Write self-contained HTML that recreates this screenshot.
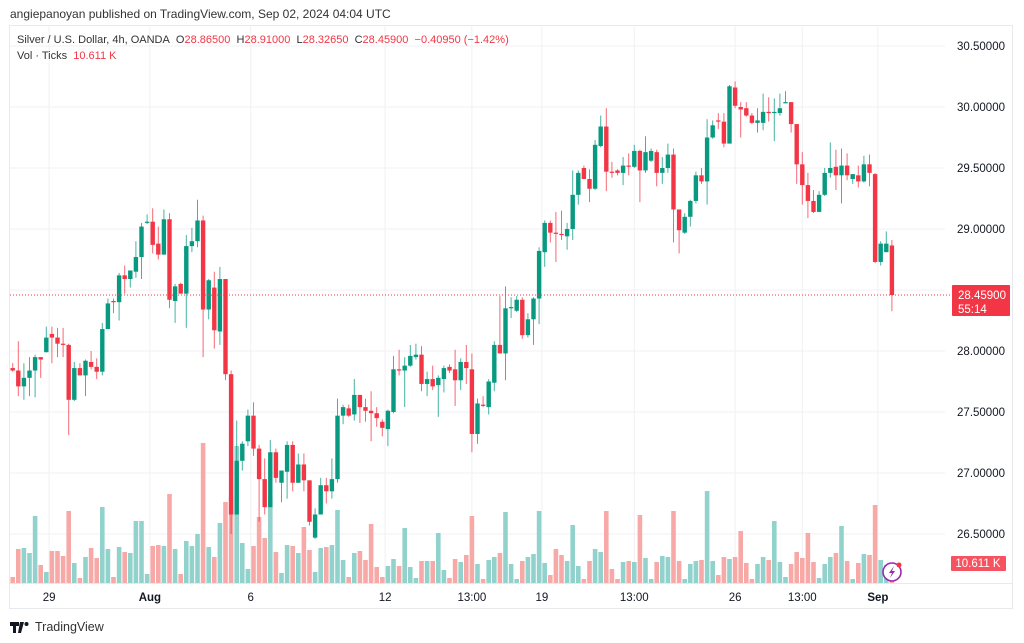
<!DOCTYPE html>
<html><head><meta charset="utf-8">
<style>
body{margin:0;width:1024px;height:643px;background:#fff;font-family:"Liberation Sans",sans-serif;overflow:hidden;position:relative}
.hdr{position:absolute;left:10px;top:7px;font-size:12px;color:#333}
.frame{position:absolute;left:9px;top:25px;width:1004px;height:584px;border:1px solid #e8e9ed;box-sizing:border-box}
.leg{position:absolute;left:17px;font-size:11px;color:#333}
.leg .r{color:#f23645}
.logo{position:absolute;left:10px;top:620px;font-size:12.5px;color:#333;display:flex;align-items:center;gap:5px}
</style></head><body>
<div class="hdr">angiepanoyan published on TradingView.com, Sep 02, 2024 04:04 UTC</div>
<div class="frame"></div>
<svg id="chart" width="1024" height="643" style="position:absolute;left:0;top:0"></svg>
<div class="leg" style="top:34px">Silver / U.S. Dollar, 4h, OANDA&nbsp; O<span class="r">28.86500</span>&nbsp; H<span class="r">28.91000</span>&nbsp; L<span class="r">28.32650</span>&nbsp; C<span class="r">28.45900</span>&nbsp; <span class="r">−0.40950 (−1.42%)</span></div>
<div class="leg" style="top:50px">Vol · Ticks&nbsp; <span class="r">10.611 K</span></div>
<div class="logo"><svg width="20" height="11"><path d="M0 0h9v4H6v7H3V4H0z M10 0h4l-3 11H8z" fill="#131722"/><circle cx="16.5" cy="2" r="2" fill="#131722"/></svg>TradingView</div>
<script>
const opens=[27.86,27.84,27.71,27.78,27.84,27.95,27.99,28.14,28.11,28.06,28.05,27.60,27.86,27.80,27.91,27.87,27.83,28.18,28.41,28.40,28.62,28.59,28.65,28.77,29.05,29.06,28.88,28.79,29.08,28.41,28.55,28.47,28.86,28.90,29.07,28.34,28.52,28.16,28.59,27.81,26.66,27.10,27.26,27.47,27.20,26.95,26.72,27.17,26.92,27.01,27.23,26.92,27.07,26.94,26.47,26.66,26.90,26.85,26.95,27.47,27.53,27.48,27.64,27.54,27.51,27.49,27.42,27.36,27.50,27.85,27.84,27.88,27.95,27.97,27.73,27.77,27.72,27.77,27.87,27.85,27.76,27.91,27.85,27.32,27.56,27.54,27.74,28.05,27.98,28.35,28.33,28.42,28.13,28.26,28.43,28.81,29.05,28.97,28.96,28.94,29.00,29.28,29.50,29.41,29.33,29.68,29.84,29.47,29.48,29.46,29.52,29.51,29.64,29.48,29.56,29.63,29.46,29.50,29.61,29.16,28.97,29.10,29.23,29.44,29.39,29.75,29.89,29.88,29.70,30.16,30.00,29.99,29.93,29.87,29.87,29.96,29.95,29.95,30.03,30.04,29.86,29.53,29.36,29.23,29.14,29.28,29.46,29.51,29.44,29.52,29.41,29.44,29.39,29.53,29.45,28.73,28.81,28.865];
const highs=[27.90,28.08,27.90,27.95,27.97,27.95,28.20,28.20,28.19,28.19,28.06,27.91,27.90,27.93,28.00,27.94,28.23,28.43,28.43,28.64,28.70,28.66,28.90,29.05,29.12,29.17,29.02,29.16,29.13,28.55,28.56,28.95,29.01,29.24,29.11,28.59,28.65,28.69,28.59,27.84,27.43,27.26,27.52,27.58,27.23,27.12,27.27,27.20,27.02,27.26,27.26,27.16,27.16,26.94,26.71,26.96,26.96,27.12,27.61,27.56,27.56,27.77,27.64,27.61,27.67,27.54,27.44,27.52,27.96,28.01,27.95,28.05,28.06,28.04,27.83,27.88,27.80,27.88,27.89,28.01,27.94,28.05,27.98,27.61,27.63,27.77,28.08,28.45,28.53,28.44,28.45,28.44,28.31,28.44,28.85,29.07,29.07,29.14,29.15,29.05,29.48,29.48,29.52,29.49,29.73,29.93,29.99,29.55,29.49,29.59,29.62,29.69,29.65,29.76,29.66,29.65,29.59,29.70,29.66,29.16,29.13,29.24,29.47,29.50,29.90,29.89,29.95,29.95,30.18,30.21,30.04,30.04,29.95,29.99,30.11,30.08,30.07,30.11,30.13,30.04,29.86,29.63,29.46,29.32,29.31,29.50,29.71,29.65,29.66,29.62,29.45,29.52,29.60,29.61,29.46,28.90,28.98,28.91];
const lows=[27.83,27.63,27.60,27.63,27.62,27.78,27.99,27.90,27.95,27.95,27.31,27.59,27.80,27.63,27.85,27.77,27.80,28.18,28.31,28.25,28.47,28.52,28.60,28.59,29.04,28.80,28.75,28.79,28.35,28.23,28.47,28.19,28.81,28.85,27.95,28.26,28.02,28.05,27.76,26.50,26.66,27.02,27.22,27.14,26.60,26.66,26.72,26.92,26.76,26.79,26.85,26.92,26.85,26.57,26.46,26.66,26.75,26.79,26.92,27.40,27.46,27.43,27.41,27.42,27.26,27.38,27.30,27.22,27.49,27.80,27.54,27.87,27.93,27.67,27.63,27.68,27.46,27.66,27.82,27.55,27.68,27.73,27.17,27.24,27.54,27.48,27.67,27.98,27.76,28.27,28.32,28.10,28.11,28.05,28.22,28.69,28.89,28.73,28.91,28.83,28.91,29.20,29.41,29.22,29.32,29.67,29.31,29.42,29.44,29.36,29.44,29.50,29.22,29.46,29.55,29.35,29.37,29.46,28.89,28.80,28.96,29.02,29.21,29.37,29.20,29.74,29.82,29.67,29.70,29.99,29.75,29.92,29.86,29.79,29.81,29.88,29.72,29.93,30.03,29.79,29.37,29.20,29.09,29.13,29.14,29.27,29.42,29.32,29.21,29.40,29.37,29.34,29.38,29.35,28.72,28.70,28.81,28.3265];
const closes=[27.84,27.71,27.78,27.84,27.95,27.93,28.11,28.11,28.06,28.05,27.60,27.86,27.80,27.92,27.87,27.83,28.18,28.39,28.40,28.62,28.59,28.66,28.77,29.02,29.06,28.87,28.79,29.08,28.42,28.53,28.47,28.86,28.90,29.07,28.34,28.58,28.17,28.59,27.81,26.66,27.10,27.24,27.47,27.20,26.95,26.72,27.17,26.96,27.02,27.23,26.92,27.07,26.94,26.60,26.66,26.90,26.85,26.95,27.47,27.54,27.47,27.64,27.54,27.51,27.49,27.45,27.37,27.51,27.85,27.84,27.88,27.96,27.97,27.73,27.77,27.71,27.78,27.86,27.84,27.76,27.91,27.86,27.32,27.57,27.55,27.75,28.05,27.98,28.35,28.36,28.42,28.13,28.26,28.43,28.82,29.05,28.97,28.96,28.95,29.00,29.28,29.46,29.41,29.33,29.69,29.84,29.47,29.46,29.46,29.52,29.51,29.64,29.48,29.63,29.64,29.46,29.50,29.61,29.16,28.99,29.10,29.23,29.44,29.39,29.75,29.85,29.88,29.70,30.17,30.01,29.98,29.93,29.87,29.89,29.96,29.95,29.96,29.99,30.04,29.86,29.53,29.36,29.23,29.14,29.28,29.46,29.50,29.44,29.52,29.44,29.45,29.39,29.53,29.46,28.73,28.88,28.88,28.459];
const volumes=[6,34,35,30,67,18,11,32,32,27,72,20,5,26,35,25,76,34,6,36,31,30,62,62,9,37,38,37,89,34,9,42,37,49,140,36,26,60,81,86,137,40,14,37,66,45,85,31,10,38,37,30,56,33,11,35,36,38,73,23,6,30,32,23,59,16,6,17,24,17,55,16,5,22,22,22,50,13,5,24,21,28,67,19,4,23,26,30,71,19,4,22,26,29,72,20,8,34,28,22,58,17,4,22,34,31,72,14,4,21,22,21,68,25,4,21,27,26,72,22,4,19,22,23,92,22,8,26,24,26,52,20,4,19,26,23,62,21,6,19,31,25,50,21,5,19,26,30,57,22,4,20,29,28,78,23,18,20];
const priceTicks=[30.5,30.0,29.5,29.0,28.5,28.0,27.5,27.0,26.5];
const priceTickLabels=["30.50000","30.00000","29.50000","29.00000","28.50000","28.00000","27.50000","27.00000","26.50000"];
const timeTicks=[6.5,24.5,42.5,66.5,82,94.5,111,129,141,154.5];
const timeTickLabels=["29","Aug","6","12","13:00","19","13:00","26","13:00","Sep"];
const boldTicks=["Aug","Sep"];
const lastPrice=28.459, lastVolLabel="10.611 K", countdown="55:14";

const NS="http://www.w3.org/2000/svg";
const svg=document.getElementById('chart');
const xOf=i=>12.7+i*5.6;
const yOf=p=>290-(p-28.5)*122;
const yVol=v=>583-v;
function mk(tag,attrs,parent){const e=document.createElementNS(NS,tag);for(const k in attrs)e.setAttribute(k,attrs[k]);(parent||svg).appendChild(e);return e;}
// grid
priceTicks.forEach((p,k)=>{
  const g=mk('line',{x1:10,x2:945,y1:yOf(p),y2:yOf(p),stroke:'#f0f1f4','stroke-width':1});
  
  
  const t=mk('text',{x:1005,y:yOf(p)+4,'text-anchor':'end','font-size':11.5,fill:'#131722','font-family':'Liberation Sans'});
  t.textContent=priceTickLabels[k];
  
  
});
timeTicks.forEach((ti,k)=>{
  const x=xOf(ti);
  const g=mk('line',{x1:x,x2:x,y1:26,y2:583,stroke:'#f0f1f4','stroke-width':1});
  
  
  const t=mk('text',{x:x,y:601,'text-anchor':'middle','font-size':11.5,fill:'#131722','font-family':'Liberation Sans','font-weight':boldTicks.includes(timeTickLabels[k])?'bold':'normal'});
  t.textContent=timeTickLabels[k];
  
  
});
mk('line',{x1:10,x2:1013,y1:583.5,y2:583.5,stroke:'#e8e9ed'});
// volume
volumes.forEach((v,i)=>{
  const up=closes[i]>=opens[i];
  const r=mk('rect',{x:xOf(i)-2.3,y:yVol(v),width:4.6,height:583-yVol(v),fill:up?'#92d2cc':'#f7a9a7'});
  
  
});
// candles
opens.forEach((o,i)=>{
  const c=closes[i],up=c>=o,col=up?'#089981':'#f23645';
  const x=xOf(i);
  const w=mk('line',{x1:x,x2:x,y1:yOf(highs[i]),y2:yOf(lows[i]),stroke:col,'stroke-width':1,opacity:0.75});
  
  
  const top=yOf(Math.max(o,c)),bot=yOf(Math.min(o,c));
  const b=mk('rect',{x:x-2.2,y:top,width:4.4,height:Math.max(1.2,bot-top),fill:col});
  
  
});
// last price line & label
const ly=yOf(lastPrice);
const pl=mk('line',{x1:10,x2:950,y1:ly,y2:ly,stroke:'#f23645','stroke-width':1,'stroke-dasharray':'1,2'});


const lb=mk('rect',{x:952,y:ly-10,width:58,height:31,fill:'#f23645',rx:1});


const lt=mk('text',{x:958,y:ly+4,'font-size':11.5,fill:'#fff','font-family':'Liberation Sans'});
lt.textContent=lastPrice.toFixed(5);


const ct=mk('text',{x:958,y:ly+18,'font-size':11.5,fill:'#fff','font-family':'Liberation Sans'});
ct.textContent=countdown;


const vb=mk('rect',{x:951,y:556,width:55,height:15,fill:'#f7525f',rx:1});


const vt=mk('text',{x:978,y:567,'text-anchor':'middle','font-size':11.5,fill:'#fff','font-family':'Liberation Sans'});
vt.textContent=lastVolLabel;


// lightning icon
const ic=mk('circle',{cx:892,cy:572,r:9,fill:'#fff',stroke:'#9c27b0','stroke-width':1.6});


const bolt=mk('path',{d:'M894 566 L889 573 L892 573 L890 578 L895 571 L892 571 Z',fill:'#9c27b0'});


const dot=mk('circle',{cx:899,cy:565,r:2.5,fill:'#f23645'});


</script>
</body></html>
